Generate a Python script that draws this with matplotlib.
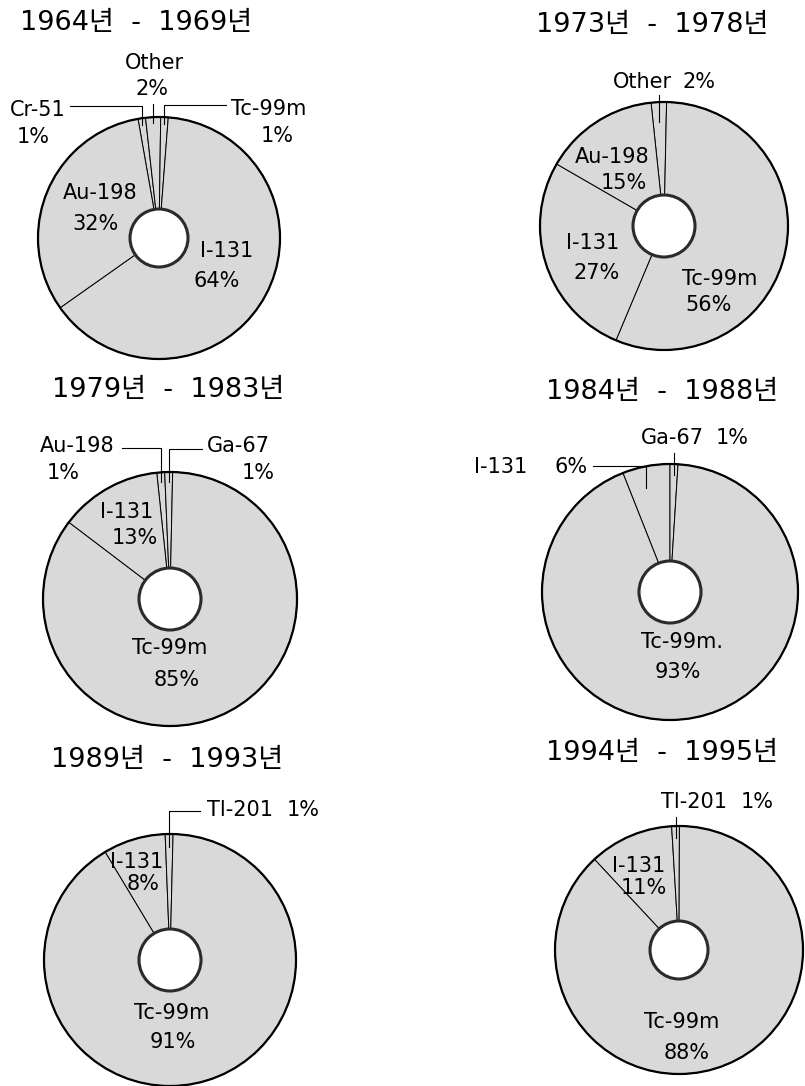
import numpy as np
import matplotlib
matplotlib.use("Agg")
import matplotlib.pyplot as plt
from matplotlib.patches import Circle

W, H = 805, 1086

# Periodenweise Anteile der Radionuklide (in %), im Uhrzeigersinn ab startangle
titles = ["1964년  -  1969년", "1973년  -  1978년", "1979년  -  1983년",
          "1984년  -  1988년", "1989년  -  1993년", "1994년  -  1995년"]

names_6469 = ["Cr-51", "Other", "Tc-99m", "I-131", "Au-198"]
values_6469 = [1, 2, 1, 64, 32]

names_7378 = ["Other", "Tc-99m", "I-131", "Au-198"]
values_7378 = [2, 56, 27, 15]

names_7983 = ["Au-198", "Ga-67", "Tc-99m", "I-131"]
values_7983 = [1, 1, 85, 13]

names_8488 = ["I-131", "Ga-67", "Tc-99m."]
values_8488 = [6, 1, 93]

names_8993 = ["I-131", "Tl-201", "Tc-99m"]
values_8993 = [8, 1, 91]

names_9495 = ["I-131", "Tl-201", "Tc-99m"]
values_9495 = [11, 1, 88]

# Layout in Pixeln (y nach unten): Mittelpunkt, Radius, Lochradius, Startwinkel
charts = [
    dict(names=names_6469, values=values_6469, c=(159, 238), r=121, rh=29, start=100,
         title_xy=(136, 23),
         text=[((38, 110), (33, 137), ("h", 70, 106, 7)),
               ((154, 63), (152, 89), ("v", 104, 6)),
               ((269, 109), (277, 136), ("h", 226, 105, 7)),
               ((227, 251), (217, 281), None),
               ((100, 193), (95, 224), None)]),
    dict(names=names_7378, values=values_7378, c=(664, 226), r=124, rh=31, start=96,
         title_xy=(652, 25),
         text=[((642, 82), (699, 82), ("v", 95, 20)),
               ((720, 279), (709, 305), None),
               ((593, 243), (597, 273), None),
               ((612, 157), (624, 183), None)]),
    dict(names=names_7983, values=values_7983, c=(170, 599), r=127, rh=31, start=96,
         title_xy=(168, 390),
         text=[((77, 446), (63, 473), ("h", 122, 448, 10)),
               ((238, 446), (258, 473), ("h", 202, 449, 10)),
               ((170, 648), (177, 680), None),
               ((127, 512), (135, 538), None)]),
    dict(names=names_8488, values=values_8488, c=(670, 592), r=128, rh=31, start=111.6,
         title_xy=(662, 392),
         text=[((501, 467), (571, 467), ("h", 593, 466, 22)),
               ((672, 438), (732, 438), ("v", 453, 11)),
               ((682, 642), (678, 672), None)]),
    dict(names=names_8993, values=values_8993, c=(170, 960), r=126, rh=31, start=121,
         title_xy=(167, 760),
         text=[((137, 862), (143, 884), None),
               ((240, 810), (303, 810), ("h", 200, 811, 13)),
               ((172, 1013), (173, 1042), None)]),
    dict(names=names_9495, values=values_9495, c=(679, 950), r=124, rh=29, start=133,
         title_xy=(662, 753),
         text=[((639, 866), (644, 888), None),
               ((694, 802), (757, 802), ("v", 817, 12)),
               ((682, 1022), (687, 1053), None)]),
]

FILL = "#d9d9d9"
LABEL_FONT = ["DejaVu Sans", "Noto Sans CJK KR"]


def Y(y):
    return H - y


def draw_chart(ax, ch, title):
    cx, cy = ch["c"][0], Y(ch["c"][1])
    r, rh = ch["r"], ch["rh"]
    wedges, _ = ax.pie(ch["values"], startangle=ch["start"], counterclock=False,
                       center=(cx, cy), radius=r, colors=[FILL] * len(ch["values"]),
                       wedgeprops=dict(width=r - rh, edgecolor="black", linewidth=0.7),
                       frame=True)
    # dicker Außenrand und Loch in der Mitte
    ax.add_patch(Circle((cx, cy), r, fill=False, edgecolor="black", lw=1.6, zorder=3))
    ax.add_patch(Circle((cx, cy), rh, facecolor="white", edgecolor="#2a2a2a", lw=2.2, zorder=3))

    for w, name, val, (nxy, vxy, lead) in zip(wedges, ch["names"], ch["values"], ch["text"]):
        ax.text(nxy[0], Y(nxy[1]), name, ha="center", va="center",
                fontsize=15, family=LABEL_FONT)
        ax.text(vxy[0], Y(vxy[1]), f"{val}%", ha="center", va="center",
                fontsize=15, family=LABEL_FONT)
        if lead is None:
            continue
        mid = np.deg2rad((w.theta1 + w.theta2) / 2)
        x_w = cx + r * np.cos(mid)
        depth = lead[-1]
        y_tip = cy + (r - depth) * np.sin(mid)
        if lead[0] == "h":
            xs = [lead[1], x_w, x_w]
            ys = [Y(lead[2]), Y(lead[2]), y_tip]
        else:
            xs = [x_w, x_w]
            ys = [Y(lead[1]), y_tip]
        ax.plot(xs, ys, color="black", lw=0.8, zorder=4)

    ax.text(ch["title_xy"][0], Y(ch["title_xy"][1]), title, ha="center", va="center",
            fontsize=19.5, family=LABEL_FONT)


fig = plt.figure(figsize=(W / 100, H / 100), dpi=100)
ax = fig.add_axes([0, 0, 1, 1])

for ch, title in zip(charts, titles):
    draw_chart(ax, ch, title)

ax.set_xlim(0, W)
ax.set_ylim(0, H)
ax.set_aspect("equal")
ax.axis("off")

fig.savefig("out.png", dpi=100, facecolor="white")
